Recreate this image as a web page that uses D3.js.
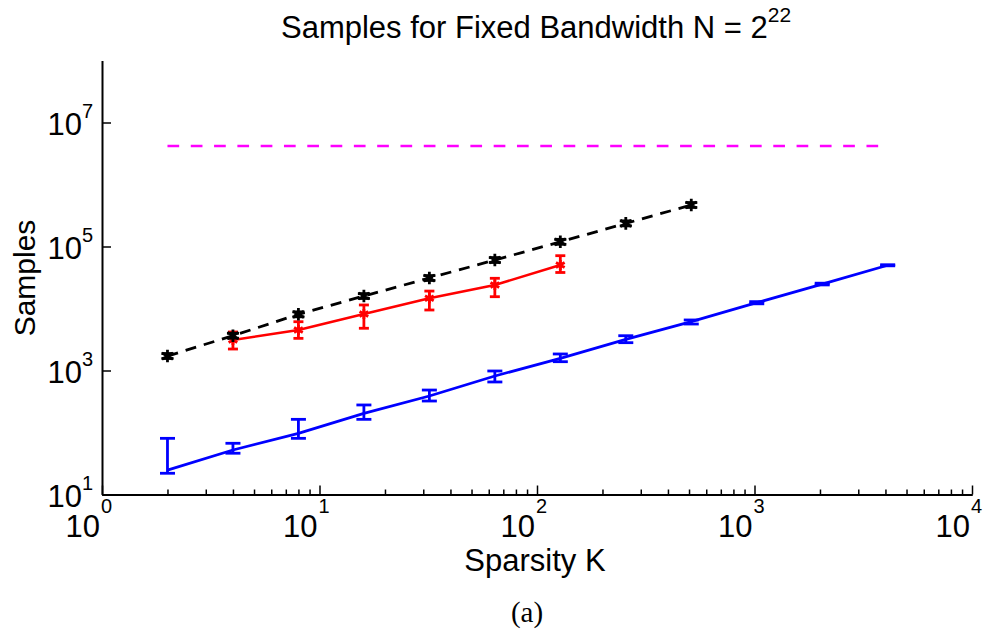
<!DOCTYPE html>
<html>

<head>
	<title>Samples for Fixed Bandwidth</title>
	<style>
		html,
		body {
			margin: 0;
			background: white;
		}
		text {
			font-family: "Liberation Sans", Arial, sans-serif;
			fill: black;
		}
	</style>
	<script src="https://cdn.jsdelivr.net/npm/d3@7"></script>
</head>

<body>
	<svg id="svg" width="995" height="635"></svg>

	<script>
		// sparsity values per series
		const blueK = [2, 4, 8, 16, 32, 64, 128, 256, 512, 1024, 2048, 4096];
		const blueVal = [24.8, 52.2, 97, 204, 388, 815, 1574, 3180, 6120, 12400, 24800, 49800];
		const blueLo = [22, 46.3, 80.5, 163, 322, 653, 1387, 2810, 5620, 11900, 24000, 48800];
		const blueHi = [80.5, 67, 163, 278, 484, 982, 1847, 3640, 6530, 12900, 25600, 50800];

		const redK = [4, 8, 16, 32, 64, 128];
		const redVal = [3100, 4500, 8150, 14600, 23900, 50400];
		const redLo = [2220, 3300, 4800, 9460, 15500, 38100];
		const redHi = [4180, 6120, 11400, 19100, 30700, 71100];

		const blackK = [2, 4, 8, 16, 32, 64, 128, 256, 512];
		const blackVal = [1710, 3640, 8050, 15900, 31000, 60500, 119000, 236000, 467000];
		const blackLo = [1560, 3320, 7340, 14500, 28300, 55200, 108500, 215000, 426000];
		const blackHi = [1880, 3990, 8830, 17400, 34000, 66300, 130500, 259000, 512000];

		// N = 2^22
		const magentaK = [2, 4096];
		const magentaVal = [4194304, 4194304];

		const xTicks = [1, 10, 100, 1000, 10000];
		const xTickExp = ['0', '1', '2', '3', '4'];
		const yTicks = [10, 1000, 100000, 10000000];
		const yTickExp = ['1', '3', '5', '7'];

		const svg = d3.select('#svg');

		const x = d3.scaleLog().domain([1, 10000]).range([102, 972]);
		const y = d3.scaleLog().domain([10, 1e8]).range([494.5, 60.5]);

		const zip = (k, v, lo, hi) => k.map((d, i) => ({ k: d, v: v[i], lo: lo ? lo[i] : null, hi: hi ? hi[i] : null }));

		const line = d3.line()
			.x(d => x(d.k))
			.y(d => y(d.v));

		//minor x ticks
		const minors = [];
		for (let e = 0; e < 4; e++) {
			for (let m = 2; m < 10; m++) minors.push(m * Math.pow(10, e));
		}

		svg.append('g')
			.attr('transform', 'translate(0,494.5)')
			.call(d3.axisBottom(x).tickValues(minors).tickSize(-5).tickSizeOuter(0).tickFormat(''))
			.call(g => g.selectAll('line').attr('stroke-width', 1.5))
			.call(g => g.select('.domain').attr('stroke-width', 2));

		svg.append('g')
			.attr('transform', 'translate(0,494.5)')
			.call(d3.axisBottom(x).tickValues(xTicks).tickSize(-9).tickSizeOuter(0).tickFormat(''))
			.call(g => g.selectAll('line').attr('stroke-width', 1.5))
			.call(g => g.select('.domain').attr('stroke-width', 2));

		svg.append('g')
			.attr('transform', 'translate(102,0)')
			.call(d3.axisLeft(y).tickValues(yTicks).tickSize(-9).tickSizeOuter(0).tickFormat(''))
			.call(g => g.selectAll('line').attr('stroke-width', 1.5))
			.call(g => g.select('.domain').attr('stroke-width', 2));

		//tick labels as 10^k, the "10" ends at the tick
		xTicks.forEach((t, i) => {
			svg.append('text')
				.attr('x', x(t) - 2)
				.attr('y', 537)
				.attr('text-anchor', 'end')
				.attr('font-size', 31)
				.text('10');
			svg.append('text')
				.attr('x', x(t) - 1)
				.attr('y', 513)
				.attr('font-size', 20)
				.text(xTickExp[i]);
		});

		yTicks.forEach((t, i) => {
			svg.append('text')
				.attr('x', 82)
				.attr('y', y(t) + 12)
				.attr('text-anchor', 'end')
				.attr('font-size', 31)
				.text('10');
			svg.append('text')
				.attr('x', 82)
				.attr('y', y(t) - 5)
				.attr('font-size', 20)
				.text(yTickExp[i]);
		});

		//magenta N line
		svg.append('path')
			.datum(zip(magentaK, magentaVal))
			.attr('d', line)
			.attr('fill', 'none')
			.attr('stroke', '#ff00ff')
			.attr('stroke-width', 2.5)
			.attr('stroke-dasharray', '11.7,11.6');

		function drawSeries(data, color, width, dash, cap, marker, msize) {
			svg.append('path')
				.datum(data)
				.attr('d', line)
				.attr('fill', 'none')
				.attr('stroke', color)
				.attr('stroke-width', width)
				.attr('stroke-dasharray', dash);

			const bars = svg.append('g')
				.attr('stroke', color)
				.attr('stroke-width', 2.8);

			bars.selectAll('.v').data(data).join('line')
				.attr('x1', d => x(d.k)).attr('x2', d => x(d.k))
				.attr('y1', d => y(d.lo)).attr('y2', d => y(d.hi));
			bars.selectAll('.lo').data(data).join('line')
				.attr('x1', d => x(d.k) - cap / 2).attr('x2', d => x(d.k) + cap / 2)
				.attr('y1', d => y(d.lo)).attr('y2', d => y(d.lo));
			bars.selectAll('.hi').data(data).join('line')
				.attr('x1', d => x(d.k) - cap / 2).attr('x2', d => x(d.k) + cap / 2)
				.attr('y1', d => y(d.hi)).attr('y2', d => y(d.hi));

			if (marker) {
				const sym = d3.symbol().type(d3.symbolAsterisk).size(msize);
				svg.append('g').selectAll('path').data(data).join('path')
					.attr('transform', d => `translate(${x(d.k)},${y(d.v)})`)
					.attr('d', sym)
					.attr('fill', 'none')
					.attr('stroke', color)
					.attr('stroke-width', 2.8);
			}
		}

		drawSeries(zip(blueK, blueVal, blueLo, blueHi), '#0000ff', 2.8, null, 15, false);
		drawSeries(zip(redK, redVal, redLo, redHi), '#ff0000', 2.6, null, 10, true, 70);
		drawSeries(zip(blackK, blackVal, blackLo, blackHi), 'black', 2.8, '11,8', 12, true, 110);

		//titles
		const title = svg.append('text')
			.attr('x', 281)
			.attr('y', 38)
			.attr('font-size', 31);
		title.append('tspan').text('Samples for Fixed Bandwidth N = 2');
		title.append('tspan').attr('dy', -16).attr('font-size', 21).text('22');

		svg.append('text')
			.attr('x', 535)
			.attr('y', 571)
			.attr('text-anchor', 'middle')
			.attr('font-size', 31)
			.text('Sparsity K');

		svg.append('text')
			.attr('transform', 'translate(35,278) rotate(-90)')
			.attr('text-anchor', 'middle')
			.attr('font-size', 30)
			.text('Samples');

		svg.append('text')
			.attr('x', 527)
			.attr('y', 622)
			.attr('text-anchor', 'middle')
			.attr('font-size', 29)
			.style('font-family', '"Liberation Serif", serif')
			.text('(a)');
	</script>
</body>

</html>
